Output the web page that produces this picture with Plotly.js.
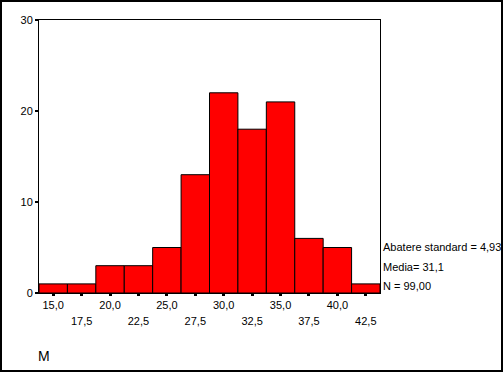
<!DOCTYPE html>
<html>
<head>
<meta charset="utf-8">
<script src="https://cdn.plot.ly/plotly-3.0.1.min.js"></script>
<style>
html,body{margin:0;padding:0;background:#fff;}
#chart{width:504px;height:373px;position:absolute;left:0;top:0;}
#frame{position:absolute;left:0;top:0;width:503px;height:372px;box-sizing:border-box;border:2px solid #000;pointer-events:none;}
</style>
</head>
<body>
<div id="chart"></div>
<div id="frame"></div>
<script>
// Bin centers (M) and counts
const binCenters = [15.0, 17.5, 20.0, 22.5, 25.0, 27.5, 30.0, 32.5, 35.0, 37.5, 40.0, 42.5];
const counts     = [1, 1, 3, 3, 5, 13, 22, 18, 21, 6, 5, 1];
const binWidth = 2.5;
const tickRow1Vals = [15.0, 20.0, 25.0, 30.0, 35.0, 40.0];
const tickRow1Text = ["15,0", "20,0", "25,0", "30,0", "35,0", "40,0"];
const tickRow2Vals = [17.5, 22.5, 27.5, 32.5, 37.5, 42.5];
const tickRow2Text = ["17,5", "22,5", "27,5", "32,5", "37,5", "42,5"];
const yTickVals = [0, 10, 20, 30];
const statsLines = ["Abatere standard = 4,93", "Media= 31,1", "N = 99,00"];
const xTitle = "M";

const font = {family: "Liberation Sans, Arial, sans-serif", size: 11, color: "#000"};

const trace = {
  type: "bar",
  x: binCenters,
  y: counts,
  width: binCenters.map(() => binWidth),
  marker: {color: "#ff0000", line: {color: "#000", width: 1}},
  hoverinfo: "x+y",
  showlegend: false
};

const xr = [binCenters[0] - binWidth/2, binCenters[binCenters.length-1] + binWidth/2];

const statsY = [0.168, 0.095, 0.026];
const annotations = statsLines.map((t, i) => ({
  text: t, xref: "paper", yref: "paper", x: 1, y: statsY[i],
  xanchor: "left", yanchor: "middle", xshift: 1, showarrow: false, font: font
}));
annotations.push({
  text: xTitle, xref: "paper", yref: "paper", x: 0, y: -0.231,
  xanchor: "left", yanchor: "middle", xshift: -3, showarrow: false,
  font: {family: font.family, size: 14, color: "#000"}
});

const layout = {
  width: 504, height: 373,
  margin: {l: 39, r: 124, t: 20, b: 80, pad: 0},
  paper_bgcolor: "#fff", plot_bgcolor: "#fff",
  bargap: 0,
  font: font,
  xaxis: {
    range: xr, showgrid: false, zeroline: false,
    showline: true, linecolor: "#000", linewidth: 1, mirror: true,
    tickmode: "array",
    tickvals: binCenters,
    ticktext: binCenters.map(v => { const i = tickRow1Vals.indexOf(v); return i >= 0 ? tickRow1Text[i] : ""; }),
    ticks: "outside", ticklen: 2, tickwidth: 3, tickcolor: "#000",
    tickfont: font
  },
  xaxis2: {
    range: xr, overlaying: "x", anchor: "y", side: "bottom",
    showgrid: false, zeroline: false, showline: false,
    tickmode: "array", tickvals: tickRow2Vals, ticktext: tickRow2Text,
    ticks: "", ticklabelstandoff: 20, tickfont: font
  },
  yaxis: {
    range: [0, 30], showgrid: false, zeroline: false,
    showline: true, linecolor: "#000", linewidth: 1, mirror: true,
    tickmode: "array", tickvals: yTickVals,
    ticks: "outside", ticklen: 3, tickwidth: 2, tickcolor: "#000",
    tickfont: font
  },
  annotations: annotations
};

Plotly.newPlot("chart", [trace, {type: "scatter", x: [], y: [], xaxis: "x2", yaxis: "y", showlegend: false, hoverinfo: "skip"}], layout, {staticPlot: true});
</script>
</body>
</html>
